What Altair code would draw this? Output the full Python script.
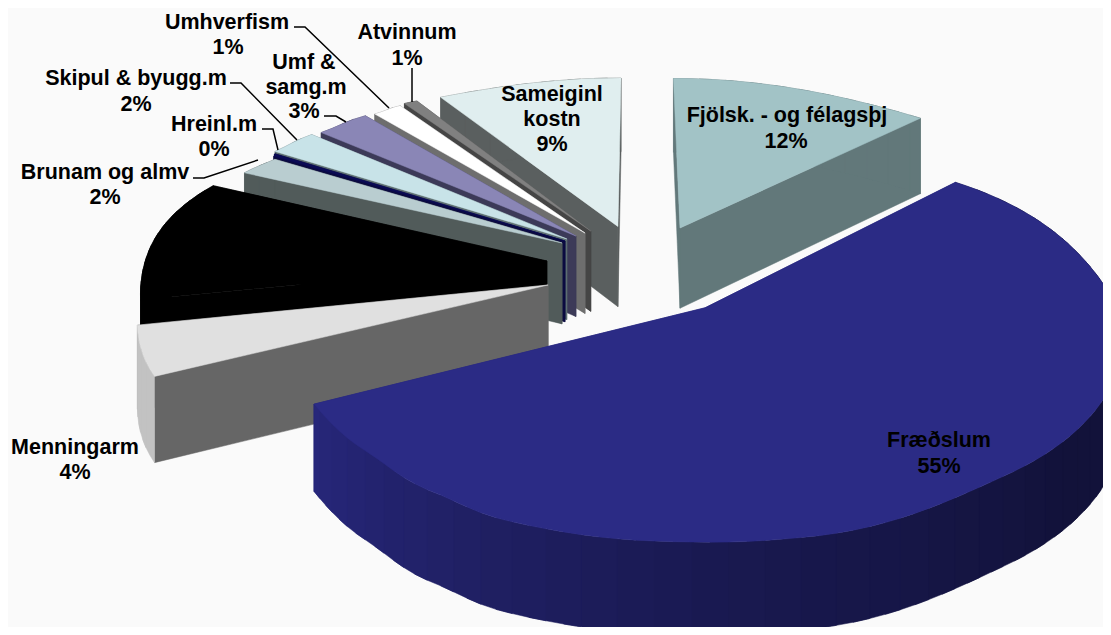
import math
import altair as alt

# ---- chart values -------------------------------------------------------
CATEGORIES = ["Fjölsk. - og félagsþj", "Fræðslum", "Menningarm", "Félagsm", "Brunam og almv",
              "Hreinl.m", "Skipul & byugg.m", "Umf & samg.m", "Umhverfism", "Atvinnum", "Sameiginl kostn"]
SHARES = [11.8, 55.25, 4.4, 11.2, 1.9, 0.25, 2.35, 2.6, 1.4, 0.6, 8.25]

TOP_COLORS = ["#A2C3C6", "#2B2B85", "#E0E0E0", "#000000", "#B9CDD0", "#0B0B55",
              "#C8E3E8", "#8A86B6", "#FFFFFF", "#808080", "#E0EEEF"]
CUT_COLORS = ["#62787A", "#27277A", "#666666", "#000000", "#515B5A", "#0B0B40",
              "#5F7072", "#3C3A58", "#6E6E6E", "#454545", "#5A5F5F"]
RIM_COLORS = ["#62787A", "#161645", "#C2C2C2", "#000000", "#515B5A", "#0B0B40",
              "#5F7072", "#3C3A58", "#6E6E6E", "#454545", "#5A5F5F"]

LABEL_TEXT = ["Umhverfism", "1%", "Atvinnum", "1%", "Umf &", "samg.m", "3%", "Skipul & byugg.m", "2%",
              "Hreinl.m", "0%", "Brunam og almv", "2%", "Menningarm", "4%", "Sameiginl", "kostn", "9%",
              "Fjölsk. - og félagsþj", "12%", "Fræðslum", "55%"]
LABEL_X = [227, 228, 407, 407, 304, 306, 304, 136, 136, 214, 214, 105, 105, 75, 75, 552, 552, 552, 787, 786, 939, 939]
LABEL_Y = [23, 48, 33, 59, 63, 88, 112, 79, 105, 125, 150, 173, 198, 448, 473, 95, 120, 145, 116, 142, 441, 467]

LEADERS = {
    "Umhverfism": [(294, 27), (305, 27), (389, 108)],
    "Skipul": [(230, 83), (241, 83), (297, 140)],
    "Hreinl": [(262, 129), (273, 129), (278, 150)],
    "Brunam": [(193, 178), (204, 178), (258, 160)],
    "Umf": [(324, 116), (336, 116), (346, 122)],
    "Atvinnum": [(412, 68), (412, 102)],
}

# ---- layout of the 3-D pie ----------------------------------------------
PAGE = 8
CX, CY, SCALE_X, SCALE_Y, PERSP = 638, 271, 420, 180, 0.18
DEPTH = 82
APEX = [(0.1045, 0.2495), (0.154, -0.197), (-0.211, -0.0767), (-0.219, 0.0561), (-0.186, 0.1601),
        (-0.179, 0.1718), (-0.175, 0.184), (-0.153, 0.2013), (-0.131, 0.219), (-0.117, 0.2313), (-0.05, 0.2586)]
# radius along each slice's rim, (angle fraction of the slice -> radius)
RADIUS = [
    [(0, 1.075), (1, 1.02)],
    [(0, 1.0), (0.22, 0.947), (0.365, 0.935), (0.5, 0.94), (0.645, 0.984), (0.69, 0.988),
     (0.77, 0.997), (0.815, 0.998), (0.865, 0.98), (0.93, 0.958), (1, 0.951)],
    [(0, 0.946), (1, 0.943)],
    [(0, 0.956), (1, 1.0)],
    [(0, 0.962), (1, 0.954)],
    [(0, 0.97), (1, 0.98)],
    [(0, 0.988), (1, 1.003)],
    [(0, 1.0), (1, 1.025)],
    [(0, 1.02), (1, 1.037)],
    [(0, 1.044), (1, 1.044)],
    [(0, 1.047), (1, 1.07)],
]
RIM_BAND = 2  # rim quads merged into one band of colour


def radius_at(table, t):
    for (t0, r0), (t1, r1) in zip(table, table[1:]):
        if t <= t1:
            f = (t - t0) / (t1 - t0)
            f = (1 - math.cos(math.pi * f)) / 2
            return r0 + (r1 - r0) * f
    return table[-1][1]


def project(px, py, drop=False):
    s = 1 / (1 + PERSP * py)
    x = CX + SCALE_X * px * s
    y = CY - SCALE_Y * py * s
    if drop:
        y += DEPTH * math.sqrt(s)
    return [x - PAGE, y - PAGE]


def poly(points, color):
    ring = points + [points[0]]
    return {"type": "Feature", "geometry": {"type": "Polygon", "coordinates": [ring]},
            "properties": {"color": color}}


def mix(c1, c2, t):
    a = [int(c1[i:i + 2], 16) for i in (1, 3, 5)]
    b = [int(c2[i:i + 2], 16) for i in (1, 3, 5)]
    return "#%02x%02x%02x" % tuple(round(u + (v - u) * t) for u, v in zip(a, b))


starts = []
acc = 0
for v in SHARES:
    starts.append(acc * 3.6)
    acc += v

features = []
draw_order = [0, 10, 9, 8, 7, 6, 5, 4, 3, 2, 1]
for i in draw_order:
    a0, a1 = starts[i], starts[i] + SHARES[i] * 3.6
    ax, ay = APEX[i]
    n = max(4, int((a1 - a0) / 2))
    pts = []
    for j in range(n + 1):
        f = j / n
        t = math.radians(a0 + (a1 - a0) * f)
        r = radius_at(RADIUS[i], f)
        pts.append((ax + r * math.sin(t), ay + r * math.cos(t)))
    # cut faces
    for p in (pts[-1], pts[0]):
        features.append(poly([project(ax, ay), project(*p), project(*p, True), project(ax, ay, True)], CUT_COLORS[i]))
    # rim wall, in bands that overlap the next one so that no seam shows
    for j in range(0, n, RIM_BAND):
        theta = a0 + (a1 - a0) * (j + RIM_BAND / 2) / n
        col = RIM_COLORS[i]
        if i == 1:
            if theta > 180:
                col = mix("#191950", "#27277A", min(1, (theta - 180) / 61))
            else:
                col = mix("#12123A", "#191950", max(0, (theta - 130) / 50))
        seg = pts[j:min(n, j + RIM_BAND + 1) + 1]
        features.append(poly([project(*p) for p in seg] + [project(*p, True) for p in reversed(seg)], col))
    # top surface
    features.append(poly([project(ax, ay)] + [project(*p) for p in pts], TOP_COLORS[i]))

pie = alt.Chart(alt.Data(values=features)).mark_geoshape(strokeWidth=0.5).encode(
    fill=alt.Fill("properties.color:N", scale=None),
    stroke=alt.Stroke("properties.color:N", scale=None),
).project(type="identity", scale=1, translate=[0, 0])

leader_rows = []
for name, path in LEADERS.items():
    for k, (x, y) in enumerate(path):
        leader_rows.append({"name": name, "k": k, "x": x - PAGE, "y": y - PAGE})
leaders = alt.Chart(alt.Data(values=leader_rows)).mark_line(color="#000000", strokeWidth=1.5).encode(
    x=alt.X("x:Q", scale=None, axis=None),
    y=alt.Y("y:Q", scale=None, axis=None),
    detail="name:N",
    order="k:Q",
)

label_rows = [{"t": t, "x": x - PAGE, "y": y - PAGE} for t, x, y in zip(LABEL_TEXT, LABEL_X, LABEL_Y)]
labels = alt.Chart(alt.Data(values=label_rows)).mark_text(
    font="Liberation Sans", fontSize=21.5, fontWeight="bold", color="#000000", align="center", baseline="middle"
).encode(
    x=alt.X("x:Q", scale=None, axis=None),
    y=alt.Y("y:Q", scale=None, axis=None),
    text="t:N",
)

chart = alt.layer(pie, leaders, labels).properties(
    width=1095, height=619, padding=0, background="#FAFAFA",
    autosize=alt.AutoSizeParams(type="none"),
).configure_view(stroke=None)

chart.save("out.html", embed_options={"renderer": "svg", "actions": False})
